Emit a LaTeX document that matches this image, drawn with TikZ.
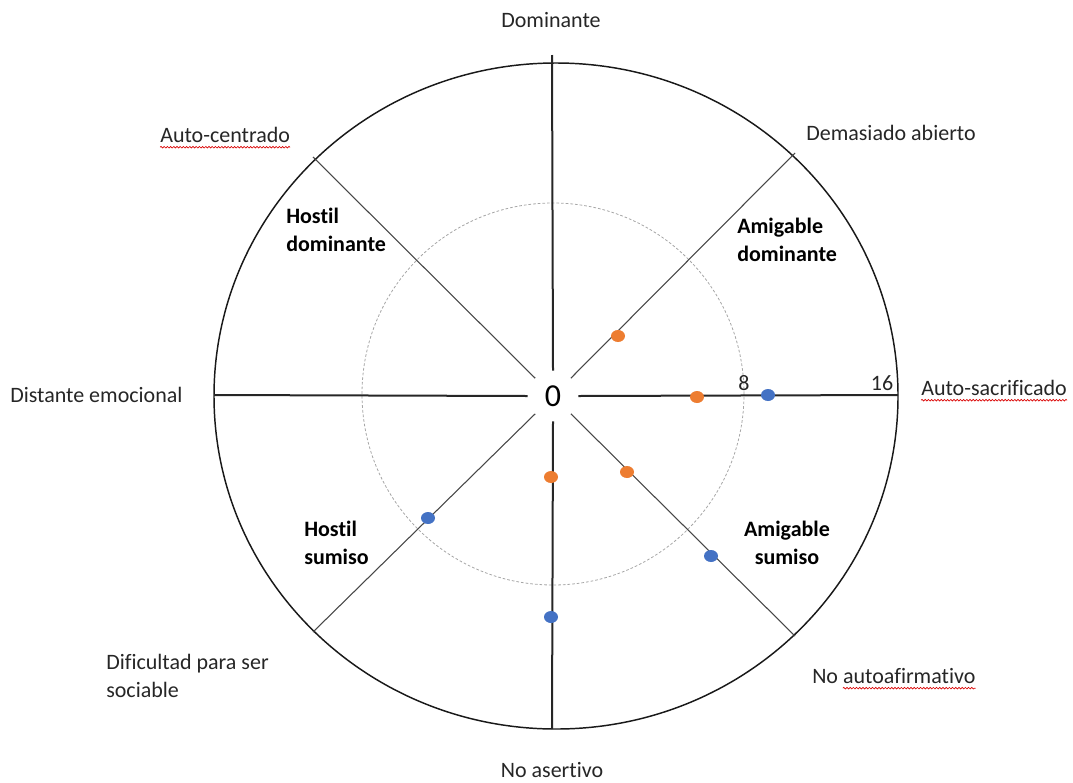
\documentclass[tikz,border=0pt]{standalone}
\usepackage{fontspec}
\setmainfont{Carlito}[Ligatures=NoCommon]
\usetikzlibrary{decorations.pathmorphing,shapes.geometric}
\definecolor{dotorange}{HTML}{ED7D31}
\definecolor{dotblue}{HTML}{4472C4}
\definecolor{axisgray}{HTML}{262626}
\definecolor{gridgray}{HTML}{A6A6A6}
\newlength\nowidth
\begin{document}
\settowidth{\nowidth}{\fontsize{16.5}{21}\selectfont No\ }%
\begin{tikzpicture}[x=0.75pt,y=-0.75pt,
  lab/.style={font=\fontsize{16.5}{21}\selectfont, inner sep=0pt, text=black!85},
  boldlab/.style={font=\fontsize{16.5}{20.5}\selectfont\bfseries, inner sep=0pt, text=black},
  axisline/.style={draw=axisgray, line width=1.5pt},
  diagline/.style={draw=axisgray!85, line width=0.8pt},
  ring/.style={draw=black!90, line width=1.1pt},
  gridring/.style={draw=gridgray, line width=0.6pt, dash pattern=on 2pt off 1.5pt},
  dotmark/.style={ellipse, minimum width=10.5pt, minimum height=9pt, inner sep=0pt},
  wavy/.style={draw=red!85!black, line width=0.5pt, decorate, decoration={snake, amplitude=0.6pt, segment length=2.4pt}}]
\useasboundingbox (0,0) rectangle (1073,782);

% rings
\draw[ring] (556,396) ellipse [x radius=256.5pt, y radius=249.75pt];
\draw[gridring] (553,394) circle [radius=143.25pt];

% centre
\node[circle, minimum size=37.5pt, inner sep=0pt, font=\fontsize{24}{28}\selectfont] (zero) at (553,396) {0};

% axis ends
\coordinate (top) at (552,55);
\coordinate (bot) at (552,729);
\coordinate (lft) at (214,395);
\coordinate (rgt) at (898,395);
\coordinate (ne) at (795,153);
\coordinate (nw) at (313,157);
\coordinate (sw) at (313,632);
\coordinate (se) at (795,636);

\draw[axisline] (zero.north) -- (top);
\draw[axisline] (zero.south) -- (bot);
\draw[axisline] (zero.west) -- (lft);
\draw[axisline] (zero.east) -- (rgt);
\draw[diagline] (zero.north east) -- (ne);
\draw[diagline] (zero.north west) -- (nw);
\draw[diagline] (zero.south west) -- (sw);
\draw[diagline] (zero.south east) -- (se);

% scale numbers
\node[lab] (n8) at (744,383) {8};
\node[lab] (n16) at (882,383) {16};

% dots
\node[dotmark, fill=dotorange] (o1) at (618,336) {};
\node[dotmark, fill=dotorange] (o2) at (697,397) {};
\node[dotmark, fill=dotblue] (b1) at (768,395) {};
\node[dotmark, fill=dotorange] (o3) at (627,472) {};
\node[dotmark, fill=dotblue] (b2) at (711,556) {};
\node[dotmark, fill=dotorange] (o4) at (551,477) {};
\node[dotmark, fill=dotblue] (b3) at (551,617) {};
\node[dotmark, fill=dotblue] (b4) at (428,518) {};

% outer labels
\node[lab] (dom) at (551,20) {Dominante};
\node[lab, anchor=west] (ac) at (160,135) {Auto-centrado};
\node[lab, anchor=west] (da) at (806,133) {Demasiado abierto};
\node[lab, anchor=west] (de) at (10,395) {Distante emocional};
\node[lab, anchor=west] (as) at (921,388) {Auto-sacrificado};
\node[lab, anchor=west] (na) at (812,676) {No autoafirmativo};
\node[lab, anchor=west, align=left, font=\fontsize{16.5}{21}\selectfont] (dif) at (106,676) {Dificultad para ser\\sociable};
\node[lab] (nas) at (552,770) {No asertivo};

% spell-check underlines
\draw[wavy] ([yshift=-3.5pt]ac.base west) -- ([yshift=-3.5pt]ac.base east);
\draw[wavy] ([yshift=-3.5pt]as.base west) -- ([yshift=-3.5pt]as.base east);
\draw[wavy] ([yshift=-3.5pt, xshift=\nowidth]na.base west) -- ([yshift=-3.5pt]na.base east);

% sector labels
\node[boldlab, anchor=west, align=left] (hd) at (286,230) {Hostil\\dominante};
\node[boldlab, anchor=west, align=left] (amd) at (737,240) {Amigable\\dominante};
\node[boldlab, anchor=west, align=left] (hs) at (304,543) {Hostil\\sumiso};
\node[boldlab, align=center] (ams) at (787,543) {Amigable\\sumiso};
\end{tikzpicture}
\end{document}
